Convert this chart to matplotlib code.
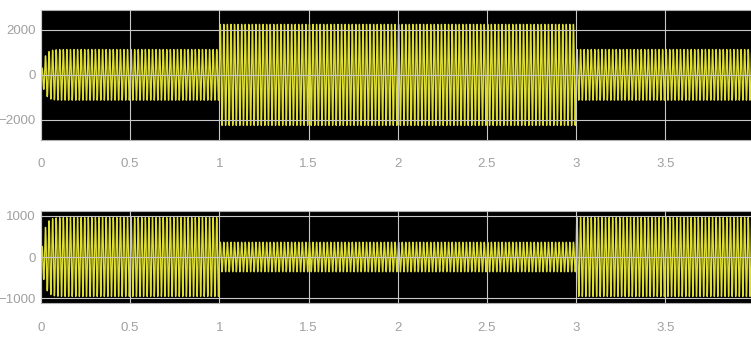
import numpy as np
import matplotlib
matplotlib.use("Agg")
import matplotlib.pyplot as plt

# segments: (start, end, amplitude)
top_segments = [(0.0, 1.0, 1130), (1.0, 3.0, 2250), (3.0, 4.0, 1130)]
bottom_segments = [(0.0, 1.0, 960), (1.0, 3.0, 360), (3.0, 4.0, 960)]
freq = 50.0
rise_time = 0.018

x_ticks = [0, 0.5, 1, 1.5, 2, 2.5, 3, 3.5, 4]
x_ticklabels = ["0", "0.5", "1", "1.5", "2", "2.5", "3", "3.5", "4"]
top_yticks = [-2000, 0, 2000]
bottom_yticks = [-1000, 0, 1000]


def build(segments, t):
    y = np.zeros_like(t)
    for start, end, amp in segments:
        m = (t >= start) & (t < end)
        y[m] = amp
    y = y * (1 - np.exp(-t / rise_time))
    return y * np.sin(2 * np.pi * freq * t)


t = np.linspace(0, 4, 8001)
y_top = build(top_segments, t)
y_bottom = build(bottom_segments, t)

plt.rcParams["font.family"] = ["Liberation Sans", "DejaVu Sans"]

fig = plt.figure(figsize=(7.51, 3.38), dpi=100)
ax1 = fig.add_axes([0.0546, 0.586, 0.95, 0.385])
ax2 = fig.add_axes([0.0546, 0.1036, 0.95, 0.272])

for ax, y, yt, lim, xpad in [(ax1, y_top, top_yticks, 2900, 13),
                             (ax2, y_bottom, bottom_yticks, 1120, 14)]:
    ax.set_facecolor("black")
    ax.plot(t, y, color="#dede34", lw=1.0)
    ax.set_xlim(0, 3.99)
    ax.set_ylim(-lim, lim)
    ax.set_xticks(x_ticks)
    ax.set_xticklabels(x_ticklabels)
    ax.set_yticks(yt)
    ax.grid(True, color="#c8c8c8", lw=0.8)
    ax.set_axisbelow(False)
    ax.tick_params(colors="#a0a0a0", labelsize=9.5, length=0)
    ax.tick_params(axis="x", pad=xpad)
    ax.tick_params(axis="y", pad=4)
    for s in ax.spines.values():
        s.set_color("#b0b0b0")

fig.savefig("out.png", dpi=100)
